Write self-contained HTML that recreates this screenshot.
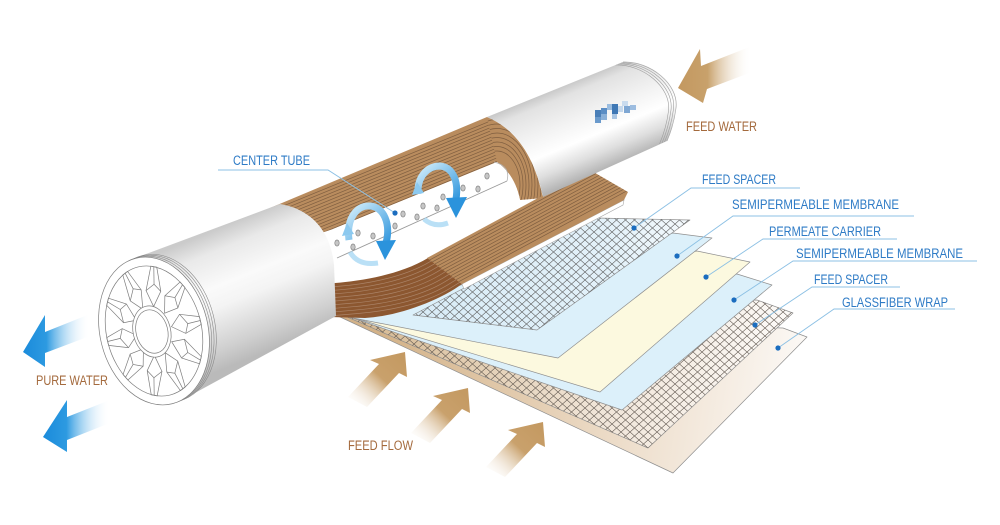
<!DOCTYPE html>
<html><head><meta charset="utf-8">
<style>html,body{margin:0;padding:0;background:#fff;}svg{display:block;}</style>
</head><body>
<svg xmlns="http://www.w3.org/2000/svg" width="1000" height="525" viewBox="0 0 1000 525">
<defs>
  <linearGradient id="gL" gradientUnits="userSpaceOnUse" x1="230" y1="224" x2="280" y2="346">
    <stop offset="0" stop-color="#cbcbcb"/><stop offset="0.15" stop-color="#e9e9e9"/>
    <stop offset="0.4" stop-color="#fafafa"/><stop offset="0.55" stop-color="#f4f4f4"/>
    <stop offset="0.85" stop-color="#d0d0d0"/><stop offset="1" stop-color="#bababa"/>
  </linearGradient>
  <linearGradient id="gR" gradientUnits="userSpaceOnUse" x1="560" y1="86" x2="596" y2="173">
    <stop offset="0" stop-color="#c6c6c6"/><stop offset="0.12" stop-color="#e2e2e2"/>
    <stop offset="0.4" stop-color="#f3f3f3"/><stop offset="0.62" stop-color="#ffffff"/>
    <stop offset="0.82" stop-color="#dedede"/><stop offset="1" stop-color="#b4b4b4"/>
  </linearGradient>
  <linearGradient id="gGF" gradientUnits="userSpaceOnUse" x1="380" y1="330" x2="800" y2="400">
    <stop offset="0" stop-color="#d3b288"/><stop offset="0.5" stop-color="#e9d6bf"/><stop offset="1" stop-color="#fcf9f6"/>
  </linearGradient>
  <linearGradient id="gM2" gradientUnits="userSpaceOnUse" x1="380" y1="330" x2="790" y2="380">
    <stop offset="0" stop-color="#d8bd98"/><stop offset="0.55" stop-color="#f0e5d8"/><stop offset="1" stop-color="#fdfbf9"/>
  </linearGradient>
  <linearGradient id="gM1" gradientUnits="userSpaceOnUse" x1="420" y1="300" x2="690" y2="220">
    <stop offset="0" stop-color="#d9ecf7"/><stop offset="0.7" stop-color="#e3f1f9"/><stop offset="1" stop-color="#f4f9fc"/>
  </linearGradient>
  <pattern id="mesh1" width="9" height="8" patternUnits="userSpaceOnUse">
    <path d="M0,0L9,8M9,0L0,8" stroke="#5a5a5a" stroke-width="0.6"/>
  </pattern>
  <pattern id="mesh2" width="9" height="8" patternUnits="userSpaceOnUse">
    <path d="M0,0L9,8M9,0L0,8" stroke="#5e554d" stroke-width="0.6"/>
  </pattern>
  <linearGradient id="gB" x1="0" y1="0" x2="1" y2="1">
    <stop offset="0" stop-color="#d6effb"/><stop offset="1" stop-color="#3398de"/>
  </linearGradient>
  <linearGradient id="gPW" x1="0" y1="0" x2="1" y2="0">
    <stop offset="0" stop-color="#1a8bdb"/><stop offset="0.35" stop-color="#2d9ae1"/>
    <stop offset="1" stop-color="#ffffff" stop-opacity="0"/>
  </linearGradient>
  <linearGradient id="gFW" x1="0" y1="0" x2="1" y2="0">
    <stop offset="0" stop-color="#c39860"/><stop offset="0.4" stop-color="#c8a16b"/>
    <stop offset="1" stop-color="#ffffff" stop-opacity="0"/>
  </linearGradient>
  <linearGradient id="gFF" x1="1" y1="0" x2="0" y2="1">
    <stop offset="0" stop-color="#c39860"/><stop offset="0.45" stop-color="#c9a16c"/>
    <stop offset="1" stop-color="#ffffff" stop-opacity="0"/>
  </linearGradient>
  <clipPath id="bandClip"><path d="M260,212 L487,117 L497,162 L333,229 L300,240 Z"/></clipPath>
  <clipPath id="crescClip"><path d="M487,117 Q530,135 543,198 L520,200 Q515,175 497,162 Z"/></clipPath>
  <clipPath id="lipClip"><path d="M330,284 L335,283 C360,281 400,275 428,258 L462,284 C440,300 400,316 365,318 L330,317 Z"/></clipPath>
  <clipPath id="boardClip"><path d="M427,258 L590,170 L628,192 L624,200 L462,284 Z"/></clipPath>
  <clipPath id="rcylClip"><path d="M487,117 L623,62 C650,61 679,84 676,108 C674,124 670,134 667,141 L543,197 Q530,135 487,117 Z"/></clipPath>
  <polygon id="ffArrow" points="405,352 370,360 379,364 348,397 367,407 399,373 407,377" fill="url(#gFF)"/>
</defs>

<rect width="1000" height="525" fill="#fff"/>

<!-- SHEETS -->
<g stroke="#8f8f8f" stroke-width="0.7" stroke-linejoin="round">
  <polygon points="783,328 807,337 673,473 338,316" fill="url(#gGF)"/>
  <polygon points="757,300 793,313 648,448 338,313" fill="url(#gM2)"/>
  <polygon points="757,300 793,313 648,448 338,313" fill="url(#mesh2)" stroke="none"/>
  <polygon points="737,274 772,285 622,410 338,313" fill="#dcf0fa"/>
  <polygon points="697,251 750,262 600,392 338,313" fill="#fcf9df"/>
  <polygon points="673,233 712,238 558,358 338,315" fill="#dcf0fa"/>
  <polygon points="413,315 597,218 690,220 537,330" fill="url(#gM1)"/>
  <polygon points="413,315 597,218 690,220 537,330" fill="url(#mesh1)" stroke="none"/>
</g>

<!-- UPPER WOOD BAND -->
<path d="M270,208 L487,117 Q530,135 543,198 L520,200 Q515,175 497,162 L333,229 L300,240 Z" fill="#b98c5e"/>
<g clip-path="url(#bandClip)" stroke="#7f5e40" stroke-width="0.7" fill="none">
  <path d="M250,219.6L520,108.9M250,222.9L520,112.2M250,226.2L520,115.5M250,229.5L520,118.8M250,232.8L520,122.1M250,236.1L520,125.4M250,239.4L520,128.7M250,242.7L520,132M250,246L520,135.3M250,249.3L520,138.6M250,252.6L520,141.9M250,255.9L520,145.2M250,259.2L520,148.5M250,262.5L520,151.8"/>
</g>
<g clip-path="url(#crescClip)" stroke="#7f5e40" stroke-width="0.7" fill="none">
  <ellipse cx="497" cy="185" rx="44" ry="65.5"/><ellipse cx="497" cy="185" rx="41" ry="61"/>
  <ellipse cx="497" cy="185" rx="38" ry="56.5"/><ellipse cx="497" cy="185" rx="35" ry="52"/>
  <ellipse cx="497" cy="185" rx="32" ry="47.5"/><ellipse cx="497" cy="185" rx="29" ry="43"/>
  <ellipse cx="497" cy="185" rx="26" ry="38.5"/><ellipse cx="497" cy="185" rx="23" ry="34"/>
</g>

<!-- INTERIOR + TUBE -->
<path d="M333,229 L497,162 Q515,175 520,200 L427,258 C400,275 360,281 335,283 Z" fill="#fff"/>
<path d="M337,258 L507,181" stroke="#9a9a9a" stroke-width="0.9" fill="none"/>
<path d="M494,162 Q511,166 507,181" stroke="#b0b0b0" stroke-width="0.8" fill="none"/>
<g fill="#c6c6c6" stroke="#7a7a7a" stroke-width="0.6">
  <ellipse cx="337" cy="243" rx="2.2" ry="3.1"/><ellipse cx="353" cy="247" rx="2.2" ry="3.1"/>
  <ellipse cx="358" cy="233" rx="2.2" ry="3.1"/><ellipse cx="373" cy="236" rx="2.2" ry="3.1"/>
  <ellipse cx="395" cy="226" rx="2.2" ry="3.1"/><ellipse cx="403" cy="214" rx="2.2" ry="3.1"/>
  <ellipse cx="417" cy="217" rx="2.2" ry="3.1"/><ellipse cx="423" cy="206" rx="2.2" ry="3.1"/>
  <ellipse cx="437" cy="208" rx="2.2" ry="3.1"/><ellipse cx="443" cy="197" rx="2.2" ry="3.1"/>
  <ellipse cx="463" cy="188" rx="2.2" ry="3.1"/><ellipse cx="478" cy="189" rx="2.2" ry="3.1"/>
  <ellipse cx="487" cy="176" rx="2.2" ry="3.1"/>
</g>

<!-- LIP -->
<path d="M330,284 L335,283 C360,281 400,275 428,258 L462,284 C440,300 400,316 365,318 L330,317 Z" fill="#8c5730"/>
<g clip-path="url(#lipClip)">
  <path id="lipS" d="M300,286 L335,283 C360,281 400,275 428,258 L480,226" stroke="#ab8468" stroke-width="0.7" fill="none" transform="translate(2.4,3.4)"/>
  <use href="#lipS" transform="translate(2.4,3.4)"/><use href="#lipS" transform="translate(4.8,6.8)"/>
  <use href="#lipS" transform="translate(7.2,10.2)"/><use href="#lipS" transform="translate(9.6,13.6)"/>
  <use href="#lipS" transform="translate(12,17)"/><use href="#lipS" transform="translate(14.4,20.4)"/>
  <use href="#lipS" transform="translate(16.8,23.8)"/><use href="#lipS" transform="translate(19.2,27.2)"/>
</g>

<!-- BOARD -->
<path d="M462,284 L624,200 L623,205 L464,289 Z" fill="#fff" stroke="#a8a8a8" stroke-width="0.6"/>
<path d="M427,258 L590,170 L628,192 L624,200 L462,284 Z" fill="#b98c5e"/>
<g clip-path="url(#boardClip)" stroke="#7f5e40" stroke-width="0.7">
  <path d="M400,276L660,135.6M400,279.4L660,139M400,282.8L660,142.4M400,286.2L660,145.8M400,289.6L660,149.2M400,293L660,152.6M400,296.4L660,156M400,299.8L660,159.4M400,303.2L660,162.8M400,306.6L660,166.2M400,310L660,169.6M400,313.4L660,173"/>
</g>

<!-- RIGHT CYLINDER -->
<path d="M487,117 L623,62 C650,61 679,84 676,108 C674,124 670,134 667,141 L543,197 Q530,135 487,117 Z" fill="url(#gR)"/>
<g clip-path="url(#rcylClip)" fill="none" stroke="#9d9d9d" stroke-width="0.6">
  <path d="M623,62 C650,61 679,84 676,108 C674,124 670,134 667,141" transform="translate(-2.5,1)"/>
  <path d="M623,62 C650,61 679,84 676,108 C674,124 670,134 667,141" transform="translate(-5,2)"/>
  <path d="M623,62 C650,61 679,84 676,108 C674,124 670,134 667,141" transform="translate(-7.5,3)"/>
</g>
<path d="M623,62 C650,61 679,84 676,108 C674,124 670,134 667,141" fill="none" stroke="#a8a8a8" stroke-width="0.7"/>
<g>
  <rect x="595" y="110" width="6" height="7" fill="#4a7fb8"/><rect x="595" y="117" width="6" height="6" fill="#6a9acc"/>
  <rect x="601" y="108" width="6" height="6" fill="#5a8dc4"/><rect x="601" y="114" width="6" height="6" fill="#8ab0d8"/>
  <rect x="607" y="104" width="5" height="6" fill="#9bbde0"/><rect x="612" y="104" width="6" height="10" fill="#3f78b5"/>
  <rect x="612" y="114" width="5" height="5" fill="#a9c5e3"/><rect x="618" y="106" width="5" height="6" fill="#c5d8ec"/>
  <rect x="622" y="101" width="6" height="5" fill="#c9dbee"/><rect x="624" y="106" width="6" height="7" fill="#7fa7d3"/>
  <rect x="630" y="105" width="6" height="5" fill="#9dbde0"/>
</g>

<!-- LEFT CYLINDER -->
<path d="M130,260 L280,204 C305,208 330,225 334,265 L336,316 L182,400 Z" fill="url(#gL)"/>
<g fill="none" stroke="#8a8a8a" stroke-width="0.6">
  <circle r="75" transform="translate(160.9,328.2) rotate(-14) scale(0.72,1)" vector-effect="non-scaling-stroke"/>
  <circle r="75" transform="translate(158.6,329.1) rotate(-14) scale(0.72,1)" vector-effect="non-scaling-stroke"/>
  <circle r="75" transform="translate(156.3,330.1) rotate(-14) scale(0.72,1)" vector-effect="non-scaling-stroke"/>
</g>
<g transform="translate(154,331) rotate(-14) scale(0.72,1)" fill="#fff" stroke="#7d7d7d" stroke-width="0.7">
  <circle r="75" vector-effect="non-scaling-stroke"/>
  <circle r="66" vector-effect="non-scaling-stroke"/>
  <g fill="none">
    <g id="vane">
      <polygon points="25,0 40,-10 66,-3 66,5 42,10" vector-effect="non-scaling-stroke"/>
      <polyline points="40,-10 48,1 42,10" vector-effect="non-scaling-stroke"/>
      <line x1="48" y1="1" x2="66" y2="1" vector-effect="non-scaling-stroke"/>
    </g>
    <use href="#vane" transform="rotate(36)"/><use href="#vane" transform="rotate(72)"/>
    <use href="#vane" transform="rotate(108)"/><use href="#vane" transform="rotate(144)"/>
    <use href="#vane" transform="rotate(180)"/><use href="#vane" transform="rotate(216)"/>
    <use href="#vane" transform="rotate(252)"/><use href="#vane" transform="rotate(288)"/>
    <use href="#vane" transform="rotate(324)"/>
  </g>
  <circle cx="-3" r="26" vector-effect="non-scaling-stroke"/>
  <circle cx="-3" r="22" vector-effect="non-scaling-stroke"/>
</g>

<!-- BLUE ROTATION ARROWS -->
<path d="M350,252 Q358,266 378,263" stroke="#a9d8f4" stroke-width="5" fill="none" opacity="0.8"/>
<path d="M349,240 C346,217 358,205 370,206 C384,207 391,224 386,243" stroke="url(#gB)" stroke-width="7" fill="none"/>
<polygon points="376,241 396,240 385,260" fill="#2b93dc"/>
<polygon points="342,236 354,234 347,223" fill="#8cc9ef"/>
<path d="M424,219 Q434,228 448,223" stroke="#a9d8f4" stroke-width="5" fill="none" opacity="0.8"/>
<path d="M418,194 C417,176 428,166 440,166 C452,167 459,180 456,199" stroke="url(#gB)" stroke-width="7" fill="none"/>
<polygon points="446,198 467,197 456,218" fill="#2b93dc"/>
<polygon points="412,195 424,193 417,182" fill="#8cc9ef"/>

<!-- FLOW ARROWS -->
<use href="#ffArrow"/>
<use href="#ffArrow" transform="translate(63,36)"/>
<use href="#ffArrow" transform="translate(138,70)"/>
<polygon points="678,88 700,49 701,66 752,46 752,72 707,89 703,103" fill="url(#gFW)"/>
<polygon points="23,352 45,315 45,332 90,314 90,336 45,353 45,367" fill="url(#gPW)"/>
<polygon points="43,437 67,400 67,417 110,400 110,423 67,440 67,452" fill="url(#gPW)"/>

<!-- LEADER LINES -->
<g fill="none" stroke="#8cc0e4" stroke-width="0.9">
  <path d="M218,170 L328,170 L395,213"/>
  <path d="M800,188 L691,188 L634,228"/>
  <path d="M914,216 L733,216 L677,256"/>
  <path d="M897,239 L763,239 L706,277"/>
  <path d="M977,261 L793,261 L734,300"/>
  <path d="M900,287 L812,287 L755,325"/>
  <path d="M955,309 L834,309 L778,348"/>
</g>
<g fill="#1b6dbf">
  <circle cx="395" cy="213" r="2.6"/><circle cx="634" cy="228" r="2.6"/>
  <circle cx="677" cy="256" r="2.6"/><circle cx="706" cy="277" r="2.6"/>
  <circle cx="734" cy="300" r="2.6"/><circle cx="755" cy="325" r="2.6"/>
  <circle cx="778" cy="348" r="2.6"/>
</g>

<!-- LABELS -->
<g font-family="'Liberation Sans', sans-serif" font-size="13.5" fill="#2e7bc6">
  <text x="233" y="165" textLength="77" lengthAdjust="spacingAndGlyphs">CENTER TUBE</text>
  <text x="702" y="184" textLength="74" lengthAdjust="spacingAndGlyphs">FEED SPACER</text>
  <text x="732" y="209" textLength="167" lengthAdjust="spacingAndGlyphs">SEMIPERMEABLE MEMBRANE</text>
  <text x="769" y="236" textLength="112" lengthAdjust="spacingAndGlyphs">PERMEATE CARRIER</text>
  <text x="796" y="258" textLength="167" lengthAdjust="spacingAndGlyphs">SEMIPERMEABLE MEMBRANE</text>
  <text x="814" y="284" textLength="74" lengthAdjust="spacingAndGlyphs">FEED SPACER</text>
  <text x="842" y="307" textLength="106" lengthAdjust="spacingAndGlyphs">GLASSFIBER WRAP</text>
</g>
<g font-family="'Liberation Sans', sans-serif" font-size="13.5" fill="#a46a3d">
  <text x="686" y="131" textLength="71" lengthAdjust="spacingAndGlyphs">FEED WATER</text>
  <text x="36" y="385" textLength="72" lengthAdjust="spacingAndGlyphs">PURE WATER</text>
  <text x="348" y="450" textLength="65" lengthAdjust="spacingAndGlyphs">FEED FLOW</text>
</g>
</svg>
</body></html>
